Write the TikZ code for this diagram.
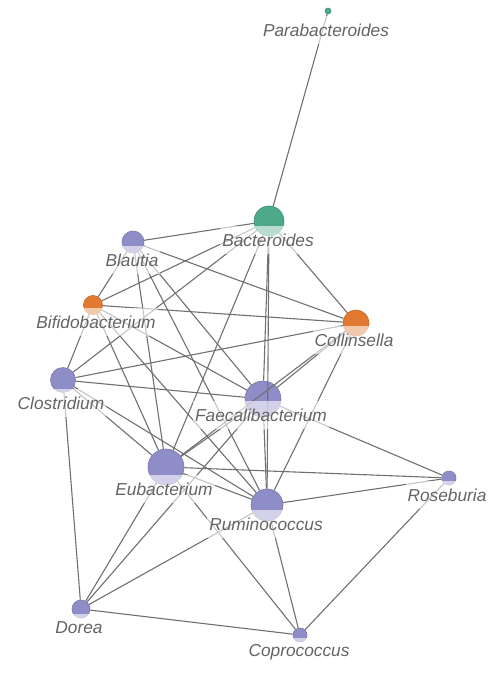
\documentclass[tikz,border=0pt]{standalone}
\usepackage{fontspec}
\newfontfamily\labelfont{Liberation Sans}
\usepackage{xcolor}
\usepackage{tikz}
\usetikzlibrary{
	shapes.geometric,
	positioning
}

\definecolor{taxpurple}{RGB}{143,141,200}
\definecolor{taxgreen}{RGB}{78,168,138}
\definecolor{taxorange}{RGB}{226,121,48}
\definecolor{edgegray}{RGB}{112,112,112}
\definecolor{labelgray}{RGB}{100,100,100}

\begin{document}
\begin{tikzpicture}[
				x=0.5pt, y=-0.5pt,
				taxon/.style={
					circle, inner sep=0pt, line width=0.3pt
				},
				purplenode/.style={
					taxon, fill=taxpurple, draw=taxpurple!85!black
				},
				greennode/.style={
					taxon, fill=taxgreen, draw=taxgreen!85!black
				},
				orangenode/.style={
					taxon, fill=taxorange, draw=taxorange!85!black
				},
				taxlabel/.style={
					fill=white, fill opacity=0.6, text opacity=1,
					text=labelgray, inner xsep=1pt, inner ysep=0pt,
					minimum height=14pt,
					font=\labelfont\itshape\fontsize{8.65}{10}\selectfont
				},
				edge/.style={-, line width=0.55pt, edgegray}
				]
				
				\useasboundingbox (0,0) rectangle (498,673);
				
				% taxa
				\node[greennode, minimum size=3pt] (para) at (328,11) {};
				\node[greennode, minimum size=15pt] (bact) at (269,221) {};
				\node[purplenode, minimum size=11pt] (blautia) at (133,242) {};
				\node[orangenode, minimum size=9.5pt] (bifido) at (93,305) {};
				\node[orangenode, minimum size=13pt] (collin) at (356,323) {};
				\node[purplenode, minimum size=12.5pt] (clostr) at (63,380) {};
				\node[purplenode, minimum size=18pt] (faecali) at (263,399) {};
				\node[purplenode, minimum size=18pt] (eubact) at (166,467) {};
				\node[purplenode, minimum size=16pt] (rumino) at (267,505) {};
				\node[purplenode, minimum size=7pt] (roseb) at (449,478) {};
				\node[purplenode, minimum size=9pt] (dorea) at (81,609) {};
				\node[purplenode, minimum size=7pt] (coproc) at (300,635) {};
				
				% co-occurrence edges
				\draw[edge] (para) -- (bact);
				\draw[edge] (bact) -- (blautia);
				\draw[edge] (bact) -- (bifido);
				\draw[edge] (bact) -- (clostr);
				\draw[edge] (bact) -- (eubact);
				\draw[edge] (bact) -- (faecali);
				\draw[edge] (bact) -- (rumino);
				\draw[edge] (bact) -- (collin);
				\draw[edge] (blautia) -- (collin);
				\draw[edge] (blautia) -- (bifido);
				\draw[edge] (blautia) -- (eubact);
				\draw[edge] (blautia) -- (rumino);
				\draw[edge] (blautia) -- (faecali);
				\draw[edge] (bifido) -- (collin);
				\draw[edge] (bifido) -- (clostr);
				\draw[edge] (bifido) -- (eubact);
				\draw[edge] (bifido) -- (rumino);
				\draw[edge] (bifido) -- (faecali);
				\draw[edge] (collin) -- (clostr);
				\draw[edge] (collin) -- (faecali);
				\draw[edge] (collin) -- (eubact);
				\draw[edge] (collin) -- (rumino);
				\draw[edge] (clostr) -- (faecali);
				\draw[edge] (clostr) -- (eubact);
				\draw[edge] (clostr) -- (rumino);
				\draw[edge] (clostr) -- (dorea);
				\draw[edge] (faecali) -- (eubact);
				\draw[edge] (faecali) -- (rumino);
				\draw[edge] (faecali) -- (roseb);
				\draw[edge] (faecali) -- (dorea);
				\draw[edge] (eubact) -- (roseb);
				\draw[edge] (eubact) -- (rumino);
				\draw[edge] (eubact) -- (coproc);
				\draw[edge] (eubact) -- (dorea);
				\draw[edge] (rumino) -- (roseb);
				\draw[edge] (rumino) -- (coproc);
				\draw[edge] (rumino) -- (dorea);
				\draw[edge] (roseb) -- (coproc);
				\draw[edge] (dorea) -- (coproc);
				
				% labels
				\node[taxlabel] (paraLabel) at (326,30) {Parabacteroides};
				\node[taxlabel] (bactLabel) at (268,240) {Bacteroides};
				\node[taxlabel] (blautiaLabel) at (132,260) {Blautia};
				\node[taxlabel] (bifidoLabel) at (96,322) {Bifidobacterium};
				\node[taxlabel] (collinLabel) at (354,340) {Collinsella};
				\node[taxlabel] (clostrLabel) at (61,403) {Clostridium};
				\node[taxlabel] (faecaliLabel) at (261,415) {Faecalibacterium};
				\node[taxlabel] (eubactLabel) at (164,489) {Eubacterium};
				\node[taxlabel] (ruminoLabel) at (266,524) {Ruminococcus};
				\node[taxlabel] (rosebLabel) at (447,495) {Roseburia};
				\node[taxlabel] (doreaLabel) at (79,628) {Dorea};
				\node[taxlabel] (coprocLabel) at (299,652) {Coprococcus};
			\end{tikzpicture}
\end{document}
